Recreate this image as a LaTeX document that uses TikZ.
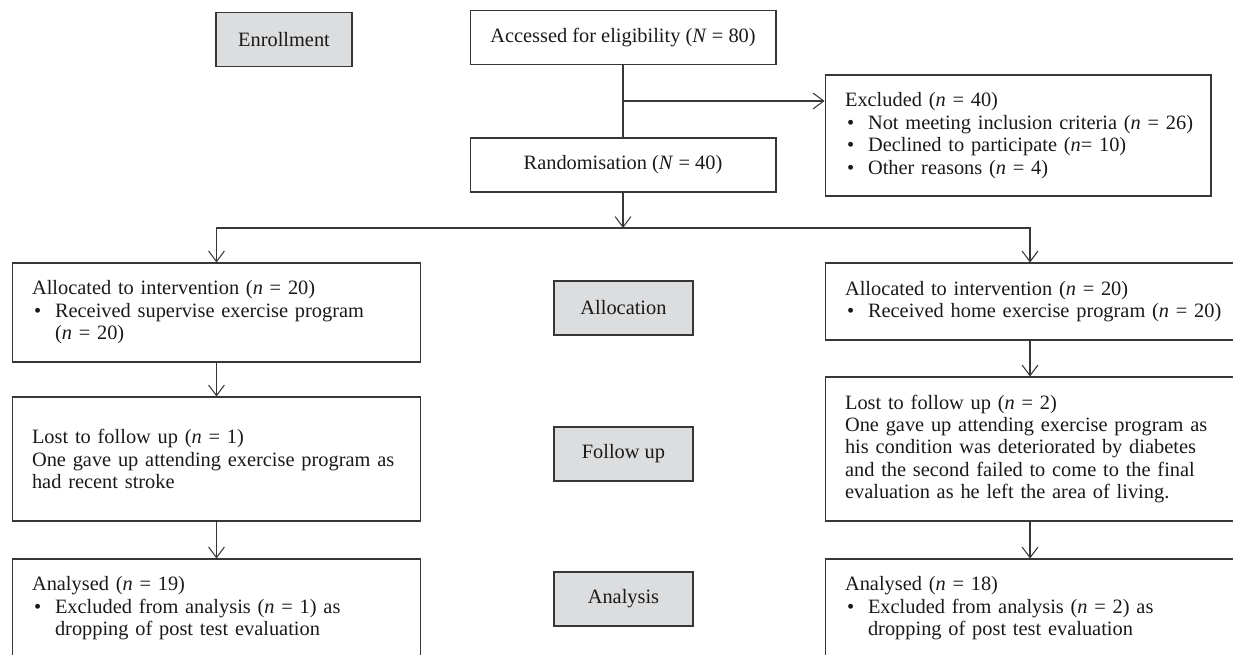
\documentclass[tikz,border=0pt]{standalone}
\usepackage{fontspec}
\setmainfont{Liberation Serif}
\usetikzlibrary{positioning,arrows.meta}
\definecolor{stagegray}{RGB}{220,221,223}
\definecolor{linegray}{RGB}{55,55,55}
\newcommand{\blt}{\makebox[0.46cm][l]{\hspace{0.04cm}\textbullet}}
\newcommand{\gap}{\hspace*{0.46cm}}

\begin{document}
\begin{tikzpicture}[x=0.02cm, y=-0.02cm,
  every node/.style={font=\fontsize{11.6}{12.8}\selectfont, text=black!90},
  box/.style={rectangle, draw=linegray, line width=0.6pt},
  stage/.style={box, fill=stagegray, minimum width=2.78cm, minimum height=1.08cm},
  mainbox/.style={box, minimum width=6.12cm, minimum height=1.08cm},
  sidebox/.style={box, align=left, text width=7.38cm, inner xsep=0.4cm},
  arr/.style={-{Straight Barb[length=6pt,width=9pt]}, draw=linegray, line width=0.6pt}]
  \useasboundingbox (0,0) rectangle (1233,655);
  \clip (0,0) rectangle (1233,655);

  % Stage labels
  \node[stage, minimum width=2.72cm] (enrol) at (284,39.5) {Enrollment};
  \foreach \n/\t/\y in {alloc/Allocation/308, foll/Follow up/454, anal/Analysis/599} {
    \node[stage] (\n) at (623.5,\y) {\t};
  }

  % Enrollment
  \node[mainbox] (access) at (623,37.5) {Accessed for eligibility (\textit{N} = 80)};
  \node[mainbox] (random) at (623,165) {Randomisation (\textit{N} = 40)};
  \node[sidebox, text width=6.92cm, minimum height=2.42cm] (excl) at (1018,135.5)
    {Excluded (\textit{n} = 40)\\
     \blt\mbox{Not meeting inclusion criteria (\textit{n} = 26)}\\
     \blt Declined to participate (\textit{n}= 10)\\
     \blt Other reasons (\textit{n} = 4)};

  % Supervised group
  \node[sidebox, minimum height=1.98cm] (lalloc) at (216.5,312.5)
    {Allocated to intervention (\textit{n} = 20)\\
     \blt Received supervise exercise program\\
     \gap(\textit{n} = 20)};
  \node[sidebox, minimum height=2.48cm] (lfoll) at (216.5,459)
    {Lost to follow up (\textit{n} = 1)\\
     \mbox{One gave up attending exercise program as}\\
     had recent stroke};
  \node[sidebox, minimum height=1.98cm] (lanal) at (216.5,608.5)
    {Analysed (\textit{n} = 19)\\
     \blt Excluded from analysis (\textit{n} = 1) as\\
     \gap dropping of post test evaluation};

  % Home group
  \node[sidebox, text width=7.4cm, minimum height=1.54cm] (ralloc) at (1030,301.5)
    {Allocated to intervention (\textit{n} = 20)\\
     \blt\mbox{Received home exercise program (\textit{n} = 20)}};
  \node[sidebox, text width=7.4cm, minimum height=2.88cm] (rfoll) at (1030,449)
    {Lost to follow up (\textit{n} = 2)\\
     \mbox{One gave up attending exercise program as}\\
     \mbox{his condition was deteriorated by diabetes}\\
     \mbox{and the second failed to come to the final}\\
     \mbox{evaluation as he left the area of living.}};
  \node[sidebox, text width=7.4cm, minimum height=1.98cm] (ranal) at (1030,608.5)
    {Analysed (\textit{n} = 18)\\
     \blt Excluded from analysis (\textit{n} = 2) as\\
     \gap dropping of post test evaluation};

  % Connections
  \draw[draw=linegray, line width=0.6pt] (access) -- (random);
  \coordinate (branch) at (623,101);
  \draw[arr] (branch) -- (branch -| excl.west);
  \coordinate (split) at (623,228);
  \draw[arr] (random) -- (split);
  \draw[arr] (split) -| (lalloc);
  \draw[arr] (split) -| (ralloc);
  \foreach \a/\b in {lalloc/lfoll, lfoll/lanal, ralloc/rfoll, rfoll/ranal} {
    \draw[arr] (\a) -- (\b);
  }
\end{tikzpicture}
\end{document}
